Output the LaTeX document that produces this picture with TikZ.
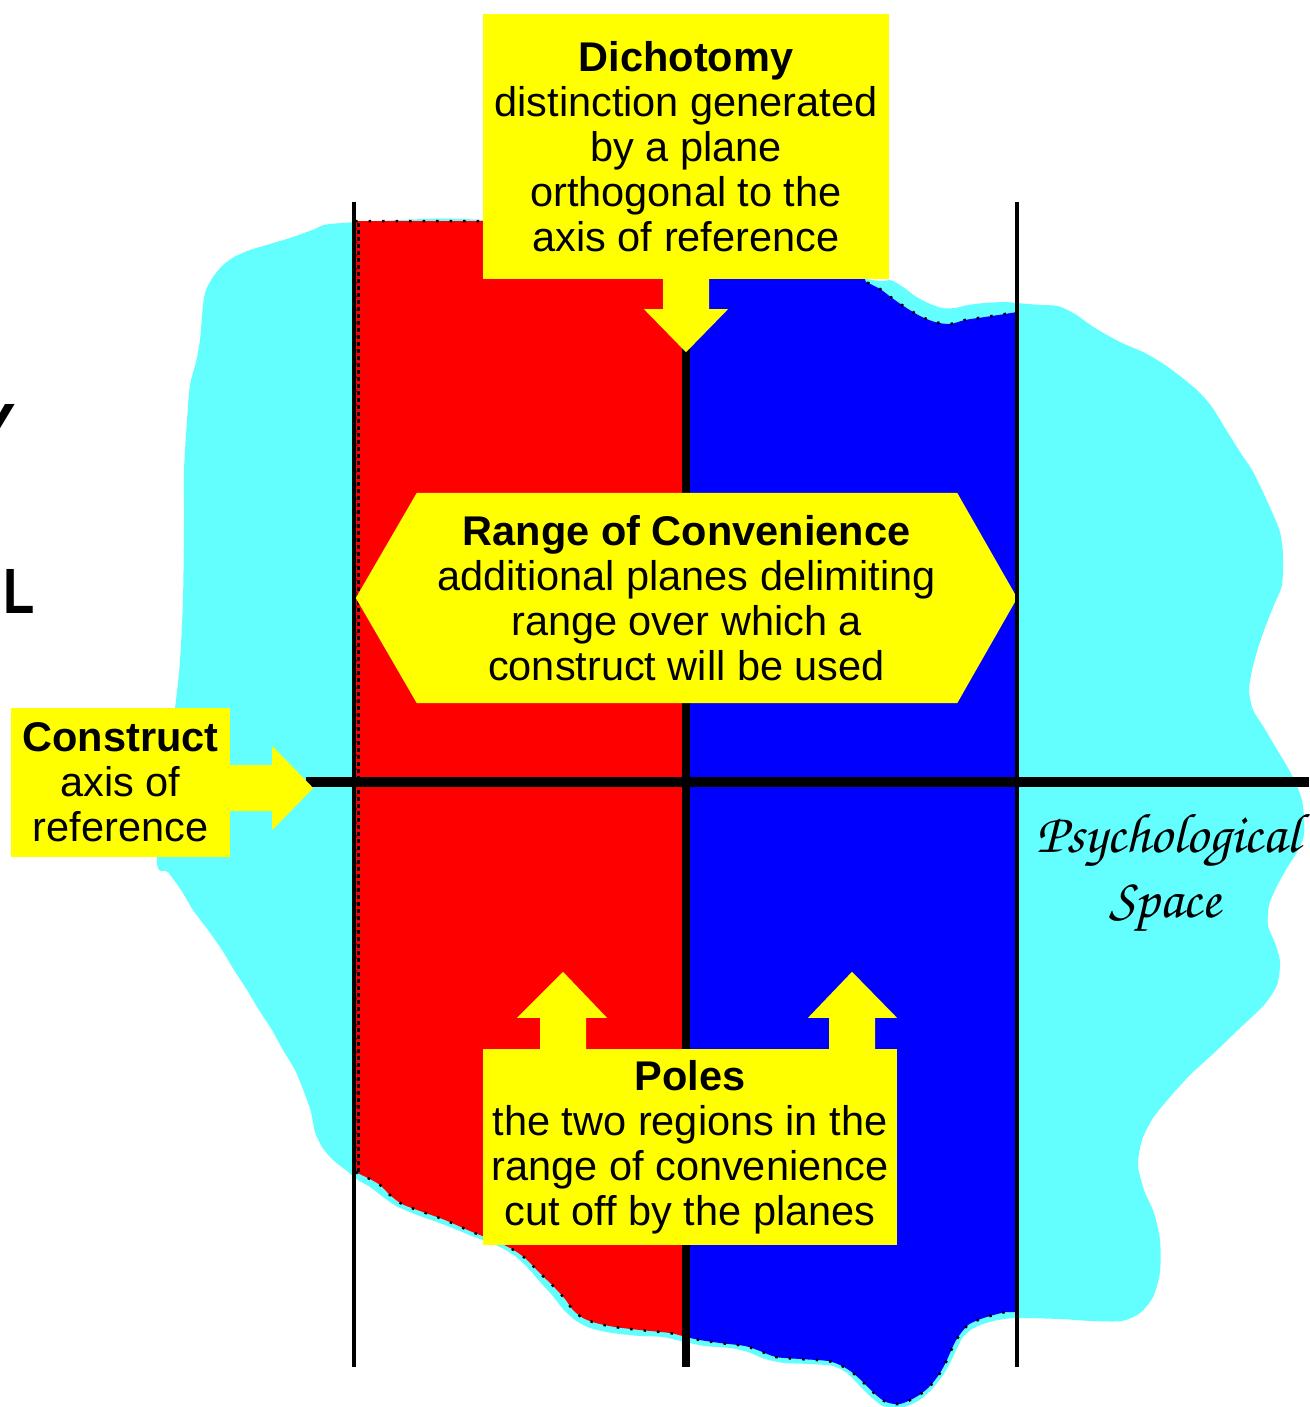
\documentclass[tikz,border=0pt]{standalone}
\usepackage{fontspec}
\setmainfont{Liberation Sans}
\newfontfamily\chorusfamily{texgyrechorus-mediumitalic.otf}
\usetikzlibrary{calc}

\definecolor{spacecyan}{RGB}{99,255,255}
\definecolor{polered}{RGB}{255,0,0}
\definecolor{poleblue}{RGB}{0,0,255}
\definecolor{notecolor}{RGB}{255,255,0}

\newcommand\notefont{\fontsize{41.5}{45}\selectfont}
\newcommand\spacelabelfont{\chorusfamily\fontsize{56}{60}\selectfont}

% outline of the region spanned by the two poles
\newcommand\poleoutline{(355,221) -- (640,221) -- (860,268) --
  plot[smooth, tension=0.5] coordinates {(866,282) (880,289) (892,298) (905,307) (920,316) (935,322)
    (950,324) (965,320) (985,317) (1005,314) (1017,312)}
  -- (1017,1312) --
  plot[smooth, tension=0.5] coordinates {(1005,1312) (990,1316) (978,1320) (968,1325) (961,1333)
    (955,1342) (950,1353) (945,1364) (938,1376) (928,1388) (916,1397) (900,1404) (886,1402)
    (875,1394) (864,1383) (853,1373) (842,1366) (828,1361) (800,1359) (776,1357) (760,1351)
    (745,1346) (720,1343) (700,1340) (686,1337) (670,1333) (640,1330) (615,1327) (596,1323)
    (583,1318) (573,1310) (565,1299) (556,1289) (546,1279) (536,1269) (525,1258) (512,1249)
    (495,1241) (470,1231) (445,1220) (420,1211) (402,1204) (390,1195) (380,1185) (368,1178)
    (355,1172)} -- cycle}

\begin{document}
\begin{tikzpicture}[x=1pt,y=-1pt,
  note/.style={fill=notecolor, inner sep=0pt, align=center, font=\notefont},
  noteshape/.style={fill=notecolor},
  plane/.style={draw=black, line width=4pt},
  midplane/.style={draw=black, line width=7.5pt},
  axisline/.style={draw=black, line width=10pt},
  poleoutlinestyle/.style={draw=black, line width=2.5pt, dash pattern=on 2.5pt off 11pt},
  poleedgestyle/.style={draw=black, line width=3pt, dash pattern=on 3.5pt off 3.5pt},
  bigletter/.style={inner sep=0pt, font=\bfseries\fontsize{64}{64}\selectfont}]

\useasboundingbox (0,0) rectangle (1309,1407);

% psychological space
\fill[spacecyan] plot[smooth cycle, tension=0.45] coordinates {
  (315,229) (330,224) (400,220) (480,220) (700,245) (866,279) (890,280) (903,287) (915,296)
  (928,303) (942,308) (955,308) (968,305) (985,303) (1005,302) (1017,303) (1040,305) (1058,306)
  (1075,314) (1095,328) (1120,342) (1145,353) (1165,365) (1185,380) (1200,393) (1212,407)
  (1225,428) (1240,452) (1252,470) (1262,490) (1272,512) (1280,532) (1283,555) (1282,585)
  (1274,605) (1266,625) (1259,645) (1253,666) (1249,690) (1253,710) (1263,726) (1276,748)
  (1288,768) (1297,786) (1303,805) (1304,835) (1297,852) (1287,868) (1277,886) (1269,905)
  (1268,926) (1275,943) (1280,962) (1277,985) (1264,1005) (1240,1028) (1215,1052) (1190,1075)
  (1170,1097) (1153,1118) (1142,1140) (1138,1165) (1144,1190) (1154,1213) (1160,1240)
  (1160,1272) (1153,1297) (1140,1313) (1122,1321) (1092,1321) (1060,1319) (1017,1318)
  (998,1320) (983,1324) (972,1329) (963,1337) (957,1348) (951,1361) (943,1375) (932,1389)
  (918,1401) (900,1408) (883,1406) (870,1396) (859,1385) (847,1373) (833,1366) (810,1364)
  (785,1363) (765,1359) (748,1352) (730,1348) (705,1346) (685,1342) (663,1337) (640,1336)
  (612,1333) (590,1328) (575,1320) (563,1309) (552,1295) (541,1283) (528,1268) (515,1256)
  (498,1246) (472,1236) (445,1225) (420,1216) (398,1207) (383,1197) (370,1187) (358,1180)
  (347,1171) (333,1160) (322,1147) (315,1132) (311,1112) (304,1092) (295,1070) (283,1050)
  (272,1030) (259,1010) (247,990) (234,970) (222,950) (208,930) (193,910) (181,890) (168,872)
  (157,857) (176,700) (180,660) (183,600) (184,520) (184,470) (187,420) (190,385) (196,362)
  (200,340) (203,305) (206,290) (213,277) (222,266) (234,257) (250,250) (270,244) (293,237)};

% the two poles
\begin{scope}
  \clip \poleoutline;
  \fill[polered] (350,200) rectangle (686,1410);
  \fill[poleblue] (686,200) rectangle (1022,1410);
\end{scope}
\draw[poleoutlinestyle] \poleoutline;
\coordinate (edgetop) at (358,223);
\coordinate (edgebot) at (358,1172);
\draw[poleedgestyle] (edgetop) -- (edgebot);

% dichotomy plane
\coordinate (midtop) at (686,345);
\coordinate (midbot) at (686,1367);
\draw[midplane] (midtop) -- (midbot);

% range of convenience
\node[minimum width=661pt, minimum height=210pt, inner sep=0pt] (roc) at (686.5,598) {};
\fill[noteshape] (roc.west) -- ($(roc.north west)+(61,0)$) -- ($(roc.north east)+(-60,0)$)
  -- (roc.east) -- ($(roc.south east)+(-60,0)$) -- ($(roc.south west)+(61,0)$) -- cycle;
\node[note, fill=none] (roctext) at (roc.center)
  {\textbf{Range of Convenience}\\additional planes delimiting\\range over which a\\construct will be used};

% delimiting planes
\coordinate (lefttop) at (354,202);
\coordinate (leftbot) at (354,1367);
\coordinate (righttop) at (1017,202);
\coordinate (rightbot) at (1017,1367);
\draw[plane] (lefttop) -- (leftbot);
\draw[plane] (righttop) -- (rightbot);

% construct: axis of reference
\node[note, minimum width=219pt, minimum height=149pt] (cons) at (120.5,782.5)
  {\textbf{Construct}\\axis of\\reference};
\coordinate (axisstart) at (306,782);
\coordinate (axisend) at (1309,782);
\draw[axisline] (axisstart) -- (axisend);
\fill[noteshape] ($(cons.east)+(-1,-17.5)$) -- ($(cons.east)+(42,-17.5)$) -- ($(cons.east)+(42,-36.5)$)
  -- ($(cons.east)+(83,5.5)$) -- ($(cons.east)+(42,47.5)$) -- ($(cons.east)+(42,28.5)$)
  -- ($(cons.east)+(-1,28.5)$) -- cycle;

% dichotomy
\node[note, minimum width=406pt, minimum height=265pt] (dich) at (686,146.5)
  {\textbf{Dichotomy}\\distinction generated\\by a plane\\orthogonal to the\\axis of reference};
\fill[noteshape] ($(dich.south)+(-23,-1)$) -- ($(dich.south)+(-23,30)$) -- ($(dich.south)+(-42,30)$)
  -- ($(dich.south)+(0,73)$) -- ($(dich.south)+(42,30)$) -- ($(dich.south)+(23,30)$)
  -- ($(dich.south)+(23,-1)$) -- cycle;

% poles
\node[note, minimum width=414pt, minimum height=196pt] (poles) at (690,1147)
  {\textbf{Poles}\\the two regions in the\\range of convenience\\cut off by the planes};
\fill[noteshape] ($(poles.north)+(-150,1)$) -- ($(poles.north)+(-150,-31)$) -- ($(poles.north)+(-173,-31)$)
  -- ($(poles.north)+(-127,-77)$) -- ($(poles.north)+(-83,-31)$) -- ($(poles.north)+(-104,-31)$)
  -- ($(poles.north)+(-104,1)$) -- cycle;
\fill[noteshape] ($(poles.north)+(139,1)$) -- ($(poles.north)+(139,-31)$) -- ($(poles.north)+(118,-31)$)
  -- ($(poles.north)+(162,-77)$) -- ($(poles.north)+(207,-31)$) -- ($(poles.north)+(185,-31)$)
  -- ($(poles.north)+(185,1)$) -- cycle;

% space label
\node[anchor=base, inner sep=0pt, font=\spacelabelfont] (psycha) at (1168,852) {Psychological};
\node[anchor=base, inner sep=0pt, font=\spacelabelfont] (psychb) at (1165,917) {Space};

% heading letters at the edge
\node[bigletter, anchor=base east] (ylet) at (16,448) {Y};
\node[bigletter, anchor=base west, xscale=0.8] (llet) at (3,613) {L};

\end{tikzpicture}
\end{document}
